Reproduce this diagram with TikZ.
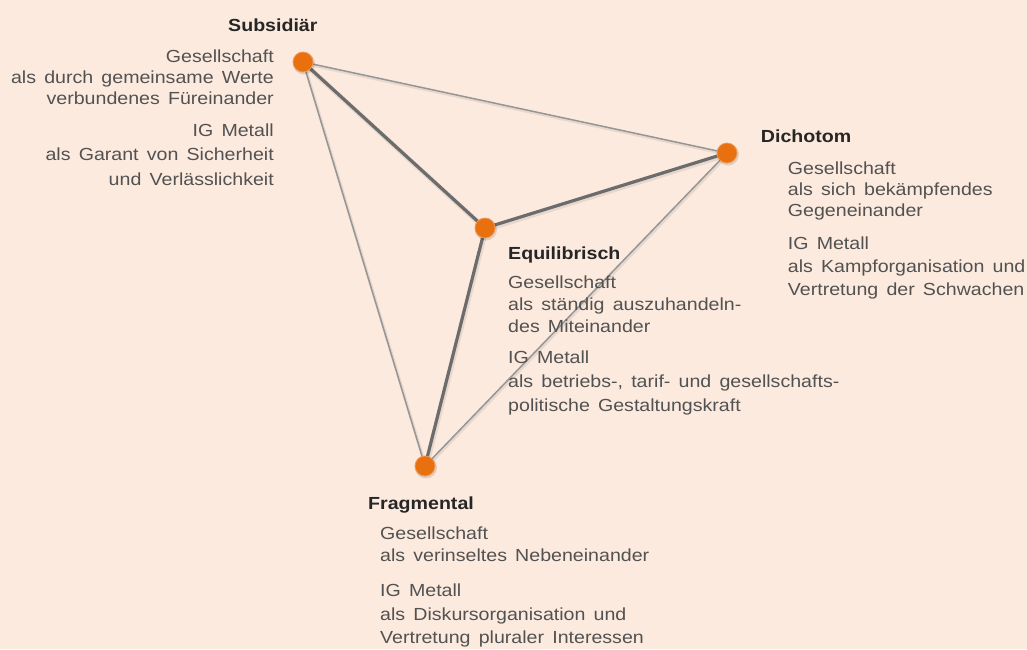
\documentclass[tikz,border=0pt]{standalone}
\usepackage{fontspec}
\setmainfont{Liberation Sans}[FakeStretch=1.12, WordSpace={1.5}]
\definecolor{bgc}{RGB}{252,234,222}
\definecolor{dotc}{RGB}{232,112,14}
\definecolor{dotedge}{RGB}{240,150,80}
\definecolor{thinc}{RGB}{150,150,150}
\definecolor{thickc}{RGB}{108,108,108}
\definecolor{headc}{RGB}{38,38,38}
\definecolor{bodyc}{RGB}{82,82,82}
\tikzset{
  heading/.style={inner sep=0pt, font=\fontsize{17.5}{20}\selectfont\bfseries, text=headc},
  bodytext/.style={inner sep=0pt, font=\fontsize{17.5}{20}\selectfont, text=bodyc},
  thinline/.style={draw=thinc, line width=1.5pt},
  thickline/.style={draw=thickc, line width=3.2pt},
  shadowline/.style={draw=black, opacity=0.08, line width=5pt},
  dotnode/.style={circle, fill=dotc, draw=dotedge, line width=0.8pt, minimum size=20pt, inner sep=0pt},
}
\begin{document}
\begin{tikzpicture}[x=1pt,y=-1pt]
\fill[bgc] (0,0) rectangle (1027,649);
\useasboundingbox (0,0) rectangle (1027,649);
\coordinate (S) at (303,62);
\coordinate (D) at (727,153);
\coordinate (E) at (485,228);
\coordinate (F) at (425,466);
% shadows
\draw[shadowline, line width=3pt] ([shift={(1,1.5)}]S) -- ([shift={(1,1.5)}]D);
\draw[shadowline, line width=3pt] ([shift={(1,1.5)}]S) -- ([shift={(1,1.5)}]F);
\draw[shadowline, line width=3pt] ([shift={(1,1.5)}]D) -- ([shift={(1,1.5)}]F);
\draw[shadowline] ([shift={(1,1.5)}]S) -- ([shift={(1,1.5)}]E);
\draw[shadowline] ([shift={(1,1.5)}]E) -- ([shift={(1,1.5)}]D);
\draw[shadowline] ([shift={(1,1.5)}]E) -- ([shift={(1,1.5)}]F);
% connectors
\draw[thinline] (S) -- (D);
\draw[thinline] (S) -- (F);
\draw[thinline] (D) -- (F);
\draw[thickline] (S) -- (E);
\draw[thickline] (E) -- (D);
\draw[thickline] (E) -- (F);
% dots
\foreach \p in {S,D,E,F}{
  \fill[black, opacity=0.12] ([shift={(1,1.5)}]\p) circle (11pt);
  \node[dotnode] (dot\p) at (\p) {};
}
% Subsidiaer
\node[heading, anchor=base west] (hS) at (228,31.7) {Subsidiär};
\node[bodytext, anchor=base east] (s1) at (274,62.5) {Gesellschaft};
\node[bodytext, anchor=base east] (s2) at (274,83.5) {als durch gemeinsame Werte};
\node[bodytext, anchor=base east] (s3) at (274,104.5) {verbundenes Füreinander};
\node[bodytext, anchor=base east] (s4) at (274,136) {IG Metall};
\node[bodytext, anchor=base east] (s5) at (274,160.5) {als Garant von Sicherheit};
\node[bodytext, anchor=base east] (s6) at (274,185) {und Verlässlichkeit};
% Dichotom
\node[heading, anchor=base west] (hD) at (760.7,142.7) {Dichotom};
\node[bodytext, anchor=base west] (d1) at (787.7,174.3) {Gesellschaft};
\node[bodytext, anchor=base west] (d2) at (787.7,195.5) {als sich bekämpfendes};
\node[bodytext, anchor=base west] (d3) at (787.7,216.7) {Gegeneinander};
\node[bodytext, anchor=base west] (d4) at (787.7,249.3) {IG Metall};
\node[bodytext, anchor=base west] (d5) at (787.7,272) {als Kampforganisation und};
\node[bodytext, anchor=base west] (d6) at (787.7,295) {Vertretung der Schwachen};
% Equilibrisch
\node[heading, anchor=base west] (hE) at (508,259) {Equilibrisch};
\node[bodytext, anchor=base west] (e1) at (508,288.3) {Gesellschaft};
\node[bodytext, anchor=base west] (e2) at (508,310) {als ständig auszuhandeln-};
\node[bodytext, anchor=base west] (e3) at (508,332) {des Miteinander};
\node[bodytext, anchor=base west] (e4) at (508,363.3) {IG Metall};
\node[bodytext, anchor=base west] (e5) at (508,387) {als betriebs-, tarif- und gesellschafts-};
\node[bodytext, anchor=base west] (e6) at (508,411) {politische Gestaltungskraft};
% Fragmental
\node[heading, anchor=base west] (hF) at (368,509.3) {Fragmental};
\node[bodytext, anchor=base west] (f1) at (380,539) {Gesellschaft};
\node[bodytext, anchor=base west] (f2) at (380,561) {als verinseltes Nebeneinander};
\node[bodytext, anchor=base west] (f3) at (380,596) {IG Metall};
\node[bodytext, anchor=base west] (f4) at (380,620) {als Diskursorganisation und};
\node[bodytext, anchor=base west] (f5) at (380,643.5) {Vertretung pluraler Interessen};
\end{tikzpicture}
\end{document}
